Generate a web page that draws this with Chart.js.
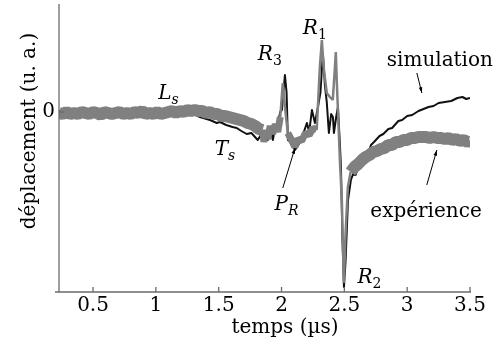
<!DOCTYPE html>
<html>
<head>
<meta charset="utf-8">
<script src="https://cdn.jsdelivr.net/npm/chart.js@4.4.0/dist/chart.umd.min.js"></script>
<style>
  html, body { margin: 0; padding: 0; background: #fff; }
  canvas { display: block; }
</style>
</head>
<body>
<canvas id="chart" width="500" height="343"></canvas>
<script>
// tick values
const xTicks = [0.5, 1, 1.5, 2, 2.5, 3, 3.5];
const yTicks = [0];

// simulation (black)
const simTime = [0.23, 0.45, 0.7, 0.95, 1.15, 1.30, 1.35, 1.43, 1.485, 1.51, 1.56, 1.61, 1.644, 1.68, 1.723,
  1.76, 1.811, 1.84, 1.867, 1.89, 1.907, 1.931, 1.95, 1.971, 1.99, 2.003, 2.027, 2.04, 2.051, 2.07, 2.107,
  2.15, 2.202, 2.22, 2.242, 2.266, 2.29, 2.31, 2.329, 2.345, 2.36, 2.377, 2.395, 2.409, 2.417, 2.435, 2.449,
  2.463, 2.473, 2.485, 2.497, 2.51, 2.529, 2.552, 2.57, 2.59, 2.61, 2.632, 2.65, 2.67, 2.69, 2.712, 2.736,
  2.78, 2.81, 2.85, 2.88, 2.93, 2.96, 3.0, 3.04, 3.09, 3.13, 3.17, 3.21, 3.25, 3.3, 3.35, 3.4, 3.44, 3.47, 3.5];
const simDisp = [0.01, 0.00, 0.01, 0.00, -0.01, -0.02, -0.05, -0.08, -0.11, -0.10, -0.13, -0.15, -0.16, -0.19, -0.22,
  -0.21, -0.28, -0.22, -0.21, -0.28, -0.15, -0.28, -0.14, -0.11, 0.0, 0.02, 0.37, 0.2, -0.28, -0.30, -0.38,
  -0.30, -0.11, -0.20, 0.02, -0.11, 0.05, 0.2, 0.59, 0.27, 0.10, -0.21, -0.02, -0.05, -0.21, -0.05, 0.05,
  -0.28, -0.55, -1.28, -1.75, -1.48, -0.88, -0.68, -0.62, -0.63, -0.55, -0.47, -0.48, -0.40, -0.41, -0.33, -0.30,
  -0.24, -0.22, -0.17, -0.16, -0.09, -0.08, -0.04, -0.03, 0.01, 0.03, 0.05, 0.06, 0.09, 0.10, 0.11, 0.14, 0.15, 0.13, 0.14];

// expérience (grey, noisy band)
const expTime = [0.23, 0.26, 0.29, 0.32, 0.35, 0.38, 0.41, 0.44, 0.47, 0.50, 0.53, 0.56, 0.59, 0.62, 0.65, 0.68,
  0.71, 0.74, 0.77, 0.80, 0.83, 0.86, 0.89, 0.92, 0.95, 0.98, 1.01, 1.04, 1.07, 1.10, 1.13, 1.16, 1.19, 1.22,
  1.25, 1.28, 1.31, 1.34, 1.37, 1.40, 1.43, 1.46, 1.49, 1.52, 1.55, 1.58, 1.61, 1.64, 1.67, 1.70, 1.73, 1.76,
  1.79, 1.82, 1.85, 1.86, 1.875, 1.89, 1.91, 1.93, 1.95, 1.97, 1.99, 2.01, 2.03, 2.05, 2.08, 2.106, 2.13, 2.16,
  2.19, 2.22, 2.25, 2.28, 2.305, 2.321, 2.335, 2.36, 2.385, 2.408, 2.425, 2.432, 2.44, 2.448, 2.465, 2.48,
  2.496, 2.51, 2.528, 2.55, 2.58, 2.61, 2.64, 2.67, 2.70, 2.73, 2.76, 2.79, 2.82, 2.85, 2.88, 2.91, 2.94,
  2.97, 3.00, 3.03, 3.06, 3.09, 3.12, 3.15, 3.18, 3.21, 3.24, 3.27, 3.30, 3.33, 3.36, 3.39, 3.42, 3.45, 3.48, 3.50];
const expDisp = [-0.01, -0.02, 0.00, -0.02, -0.01, -0.02, 0.00, -0.01, -0.02, 0.00, -0.01, -0.03, 0.00, -0.01, -0.02, -0.01,
  0.00, -0.02, -0.01, -0.02, 0.00, -0.01, 0.01, -0.02, -0.01, -0.02, 0.00, -0.02, -0.01, 0.00, 0.01, -0.01, 0.01, 0.00,
  0.02, 0.01, 0.02, 0.01, 0.01, -0.01, 0.00, -0.02, -0.02, -0.04, -0.04, -0.05, -0.06, -0.07, -0.08, -0.09, -0.11, -0.12,
  -0.14, -0.17, -0.18, -0.30, -0.18, -0.27, -0.14, -0.22, -0.12, -0.20, -0.05, 0.29, 0.02, -0.21, -0.28, -0.35, -0.27, -0.29,
  -0.21, -0.23, -0.16, -0.18, 0.45, 0.72, 0.45, 0.19, 0.15, 0.12, 0.45, 0.60, 0.30, 0.05, -0.5, -0.88,
  -1.71, -1.2, -0.75, -0.60, -0.55, -0.52, -0.48, -0.45, -0.43, -0.40, -0.39, -0.37, -0.36, -0.33, -0.33, -0.30, -0.30,
  -0.28, -0.28, -0.26, -0.26, -0.25, -0.25, -0.25, -0.26, -0.25, -0.26, -0.26, -0.27, -0.26, -0.28, -0.27, -0.29, -0.28, -0.30, -0.29];

// italic labels on the curves (text, subscript, anchor in data units)
const marks = [
  { text: 'L', sub: 's', x: 1.10, y: 0.18 },
  { text: 'T', sub: 's', x: 1.55, y: -0.38 },
  { text: 'R', sub: '3', x: 1.907, y: 0.57 },
  { text: 'R', sub: '1', x: 2.265, y: 0.83 },
  { text: 'P', sub: 'R', x: 2.04, y: -0.93 },
  { text: 'R', sub: '2', x: 2.70, y: -1.66 }
];
const notes = [
  { text: 'simulation', x: 3.26, y: 0.51 },
  { text: 'expérience', x: 3.15, y: -1.00 }
];
const arrows = [
  { from: [2.01, -0.76], to: [2.107, -0.36] },
  { from: [3.077, 0.39], to: [3.117, 0.19] },
  { from: [3.156, -0.73], to: [3.236, -0.38] }
];

const serif = '"DejaVu Serif", serif';
const toPoints = (xs, ys) => xs.map((x, i) => ({ x: x, y: ys[i] }));

// grey trace is a wide noisy band, but the sharp spikes are thin
const greyWidth = ctx => {
  const t = ctx.p0.parsed.x;
  if ((t >= 1.985 && t < 2.04) || (t >= 2.28 && t < 2.53)) return 2.5;
  if (t >= 1.85 && t < 2.28) return 7;
  return 12;
};

const decorations = {
  id: 'decorations',
  afterDraw(chart) {
    const { ctx, chartArea: a, scales: { x, y } } = chart;
    ctx.save();

    // axis lines and inward ticks
    ctx.strokeStyle = '#6b6b6b';
    ctx.lineWidth = 1.3;
    ctx.beginPath();
    ctx.moveTo(a.left, a.top);
    ctx.lineTo(a.left, a.bottom);
    ctx.moveTo(a.left - 4, a.bottom);
    ctx.lineTo(a.right + 1, a.bottom);
    xTicks.forEach(v => {
      const px = x.getPixelForValue(v);
      ctx.moveTo(px, a.bottom);
      ctx.lineTo(px, a.bottom - 5);
    });
    yTicks.forEach(v => {
      const py = y.getPixelForValue(v);
      ctx.moveTo(a.left, py);
      ctx.lineTo(a.left + 5, py);
    });
    ctx.stroke();

    // axis titles
    ctx.fillStyle = '#000';
    ctx.font = '20px ' + serif;
    ctx.textAlign = 'center';
    ctx.textBaseline = 'alphabetic';
    ctx.fillText('temps (µs)', 285, 333);
    ctx.save();
    ctx.translate(35, 131);
    ctx.rotate(-Math.PI / 2);
    ctx.fillText('déplacement (u. a.)', 0, 0);
    ctx.restore();

    // plain notes
    ctx.textBaseline = 'middle';
    notes.forEach(n => {
      ctx.fillText(n.text, x.getPixelForValue(n.x), y.getPixelForValue(n.y));
    });

    // italic labels with subscript
    ctx.textAlign = 'left';
    marks.forEach(m => {
      const cx = x.getPixelForValue(m.x), cy = y.getPixelForValue(m.y);
      const subFont = (m.sub === 's' || m.sub === 'R' ? 'italic ' : '') + '14px ' + serif;
      ctx.font = 'italic 20px ' + serif;
      const w1 = ctx.measureText(m.text).width;
      ctx.font = subFont;
      const w2 = ctx.measureText(m.sub).width;
      const x0 = cx - (w1 + w2) / 2;
      ctx.font = 'italic 20px ' + serif;
      ctx.fillText(m.text, x0, cy);
      ctx.font = subFont;
      ctx.fillText(m.sub, x0 + w1, cy + 6);
    });

    // arrows
    ctx.strokeStyle = '#000';
    ctx.lineWidth = 1;
    arrows.forEach(ar => {
      const x1 = x.getPixelForValue(ar.from[0]), y1 = y.getPixelForValue(ar.from[1]);
      const x2 = x.getPixelForValue(ar.to[0]), y2 = y.getPixelForValue(ar.to[1]);
      const ang = Math.atan2(y2 - y1, x2 - x1);
      ctx.beginPath();
      ctx.moveTo(x1, y1);
      ctx.lineTo(x2, y2);
      ctx.stroke();
      ctx.beginPath();
      ctx.moveTo(x2, y2);
      ctx.lineTo(x2 - 6 * Math.cos(ang - 0.3), y2 - 6 * Math.sin(ang - 0.3));
      ctx.lineTo(x2 - 6 * Math.cos(ang + 0.3), y2 - 6 * Math.sin(ang + 0.3));
      ctx.closePath();
      ctx.fill();
    });

    ctx.restore();
  }
};

const noPadding = s => { s.paddingTop = 0; s.paddingBottom = 0; s.paddingLeft = 0; s.paddingRight = 0; };

new Chart(document.getElementById('chart'), {
  type: 'line',
  data: {
    datasets: [
      {
        label: 'expérience',
        data: toPoints(expTime, expDisp),
        borderColor: '#808080',
        borderWidth: 12,
        borderJoinStyle: 'bevel',
        segment: { borderWidth: greyWidth },
        pointRadius: 0,
        tension: 0
      },
      {
        label: 'simulation',
        data: toPoints(simTime, simDisp),
        borderColor: '#111',
        borderWidth: 2,
        borderJoinStyle: 'round',
        pointRadius: 0,
        tension: 0
      }
    ]
  },
  options: {
    responsive: false,
    animation: false,
    devicePixelRatio: 1,
    layout: { padding: { left: 0, right: 30, top: 4, bottom: 0 } },
    plugins: { legend: { display: false }, tooltip: { enabled: false } },
    scales: {
      x: {
        type: 'linear',
        min: 0.229,
        max: 3.5,
        afterBuildTicks: s => { s.ticks = xTicks.map(v => ({ value: v })); },
        afterFit: s => { s.height = 51; noPadding(s); },
        grid: { display: false, drawTicks: false },
        border: { display: false },
        ticks: { callback: v => String(v), autoSkip: false, maxRotation: 0, padding: 2, color: '#000', font: { family: serif, size: 20 } }
      },
      y: {
        min: -1.80,
        max: 1.08,
        afterBuildTicks: s => { s.ticks = yTicks.map(v => ({ value: v })); },
        afterFit: s => { s.width = 59; noPadding(s); },
        grid: { display: false, drawTicks: false },
        border: { display: false },
        ticks: { callback: v => String(v), padding: 4, color: '#000', font: { family: serif, size: 20 } }
      }
    }
  },
  plugins: [decorations]
});
</script>
</body>
</html>
